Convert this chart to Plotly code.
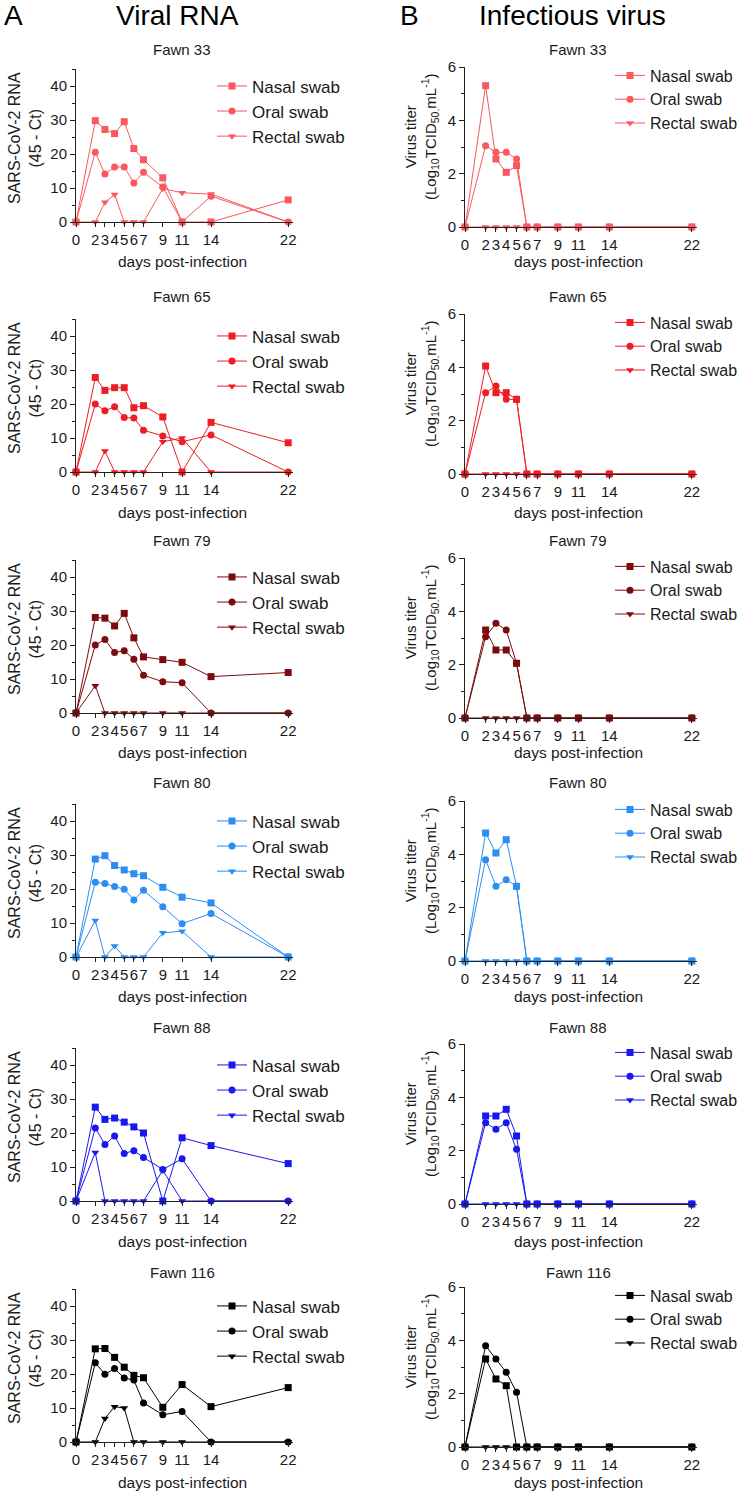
import plotly.graph_objects as go

# ---------------- data ----------------
days = [0, 2, 3, 4, 5, 6, 7, 9, 11, 14, 22]
day_labels = ["0", "2", "3", "4", "5", "6", "7", "9", "11", "14", "22"]
fawn_names = ["Fawn 33", "Fawn 65", "Fawn 79", "Fawn 80", "Fawn 88", "Fawn 116"]
series_names = ["Nasal swab", "Oral swab", "Rectal swab"]

# Viral RNA (45 - Ct)
rna_nasal_33 = [0, 29.8, 27.2, 26.0, 29.5, 21.6, 18.3, 13.0, 0, 0, 6.5]
rna_oral_33 = [0, 20.5, 14.1, 16.2, 16.2, 11.5, 14.6, 10.3, 0, 7.6, 0]
rna_rectal_33 = [0, 0, 5.8, 8.1, 0, 0, 0, 9.8, 8.6, 8.2, 0]
rna_nasal_65 = [0, 27.8, 24.0, 24.8, 24.8, 18.9, 19.5, 16.2, 0, 14.6, 8.6]
rna_oral_65 = [0, 20.0, 18.0, 19.2, 16.0, 15.9, 12.3, 10.6, 8.9, 10.9, 0]
rna_rectal_65 = [0, 0, 6.2, 0, 0, 0, 0, 8.9, 10.0, 0, 0]
rna_nasal_79 = [0, 28.1, 27.9, 25.6, 29.3, 22.1, 16.5, 15.7, 14.9, 10.7, 11.9]
rna_oral_79 = [0, 20.0, 21.6, 17.8, 18.3, 15.8, 11.1, 9.2, 8.9, 0, 0]
rna_rectal_79 = [0, 8.0, 0, 0, 0, 0, 0, 0, 0, 0, 0]
rna_nasal_80 = [0, 28.8, 29.8, 26.9, 25.6, 24.5, 23.9, 20.5, 17.6, 15.9, 0]
rna_oral_80 = [0, 22.0, 21.6, 20.7, 19.9, 16.8, 19.6, 14.8, 9.8, 12.8, 0]
rna_rectal_80 = [0, 10.7, 0, 3.2, 0, 0, 0, 7.1, 7.6, 0, 0]
rna_nasal_88 = [0, 27.6, 24.0, 24.4, 23.2, 21.8, 20.0, 0, 18.6, 16.3, 11.0]
rna_oral_88 = [0, 21.5, 16.6, 19.1, 14.0, 14.8, 12.8, 9.3, 12.4, 0, 0]
rna_rectal_88 = [0, 14.3, 0, 0, 0, 0, 0, 9.0, 0, 0, 0]
rna_nasal_116 = [0, 27.4, 27.5, 24.9, 22.0, 19.6, 18.9, 10.2, 16.9, 10.4, 16.0]
rna_oral_116 = [0, 23.3, 19.9, 21.6, 18.8, 18.2, 11.5, 8.0, 9.0, 0, 0]
rna_rectal_116 = [0, 0, 6.9, 10.4, 10.0, 0, 0, 0, 0, 0, 0]

# Infectious virus titer (Log10 TCID50/mL)
tit_nasal_33 = [0, 5.3, 2.55, 2.05, 2.3, 0, 0, 0, 0, 0, 0]
tit_oral_33 = [0, 3.05, 2.8, 2.8, 2.55, 0, 0, 0, 0, 0, 0]
tit_rectal_33 = [0, 0, 0, 0, 0, 0, 0, 0, 0, 0, 0]
tit_nasal_65 = [0, 4.05, 3.05, 3.05, 2.8, 0, 0, 0, 0, 0, 0]
tit_oral_65 = [0, 3.05, 3.3, 2.8, 2.8, 0, 0, 0, 0, 0, 0]
tit_rectal_65 = [0, 0, 0, 0, 0, 0, 0, 0, 0, 0, 0]
tit_nasal_79 = [0, 3.3, 2.55, 2.55, 2.05, 0, 0, 0, 0, 0, 0]
tit_oral_79 = [0, 3.05, 3.55, 3.3, 2.05, 0, 0, 0, 0, 0, 0]
tit_rectal_79 = [0, 0, 0, 0, 0, 0, 0, 0, 0, 0, 0]
tit_nasal_80 = [0, 4.8, 4.05, 4.55, 2.8, 0, 0, 0, 0, 0, 0]
tit_oral_80 = [0, 3.8, 2.8, 3.05, 2.8, 0, 0, 0, 0, 0, 0]
tit_rectal_80 = [0, 0, 0, 0, 0, 0, 0, 0, 0, 0, 0]
tit_nasal_88 = [0, 3.3, 3.3, 3.55, 2.55, 0, 0, 0, 0, 0, 0]
tit_oral_88 = [0, 3.05, 2.8, 3.05, 2.05, 0, 0, 0, 0, 0, 0]
tit_rectal_88 = [0, 0, 0, 0, 0, 0, 0, 0, 0, 0, 0]
tit_nasal_116 = [0, 3.3, 2.55, 2.3, 0, 0, 0, 0, 0, 0, 0]
tit_oral_116 = [0, 3.8, 3.3, 2.8, 2.05, 0, 0, 0, 0, 0, 0]
tit_rectal_116 = [0, 0, 0, 0, 0, 0, 0, 0, 0, 0, 0]

rna_data = [
    (rna_nasal_33, rna_oral_33, rna_rectal_33),
    (rna_nasal_65, rna_oral_65, rna_rectal_65),
    (rna_nasal_79, rna_oral_79, rna_rectal_79),
    (rna_nasal_80, rna_oral_80, rna_rectal_80),
    (rna_nasal_88, rna_oral_88, rna_rectal_88),
    (rna_nasal_116, rna_oral_116, rna_rectal_116),
]
tit_data = [
    (tit_nasal_33, tit_oral_33, tit_rectal_33),
    (tit_nasal_65, tit_oral_65, tit_rectal_65),
    (tit_nasal_79, tit_oral_79, tit_rectal_79),
    (tit_nasal_80, tit_oral_80, tit_rectal_80),
    (tit_nasal_88, tit_oral_88, tit_rectal_88),
    (tit_nasal_116, tit_oral_116, tit_rectal_116),
]

# ---------------- styling / layout geometry ----------------
colors = ["#F8585E", "#EE1C24", "#7B0C0E", "#2C8DF2", "#1818EE", "#000000"]
symbols = ["square", "circle", "triangle-down"]
FONT = "Liberation Sans, Arial, Helvetica, sans-serif"
TXT = "#1a1a1a"

W, H = 743, 1493


def fx(p):
    return p / W


def fy(p):
    return 1 - p / H


LEFT_X = (76, 293)
RIGHT_X = (465, 697)
left_base = [222, 472, 713, 957, 1201, 1442]
right_base = [227, 474, 718, 961, 1204, 1447]
LEFT_H = 153
RIGHT_H = 160
title_y = [50, 296, 540, 783, 1027, 1272]

fig = go.Figure()
layout = {}
annotations = []

for i in range(6):
    for side in (0, 1):
        k = 2 * i + 1 + side
        xname = "x" if k == 1 else f"x{k}"
        yname = "y" if k == 1 else f"y{k}"
        xkey = "xaxis" if k == 1 else f"xaxis{k}"
        ykey = "yaxis" if k == 1 else f"yaxis{k}"
        lkey = "legend" if k == 1 else f"legend{k}"
        data = rna_data[i] if side == 0 else tit_data[i]
        # rectal drawn first, nasal last (on top); legend order set by rank
        for s in (2, 1, 0):
            fig.add_trace(go.Scatter(
                x=days, y=data[s], name=series_names[s],
                mode="lines+markers",
                line=dict(color=colors[i], width=1),
                marker=dict(symbol=symbols[s], size=7, color=colors[i], line=dict(width=0)),
                xaxis=xname, yaxis=yname, legend=lkey, legendrank=s + 1,
                cliponaxis=False, showlegend=True,
            ))
        if side == 0:
            xd, base, hgt = LEFT_X, left_base[i], LEFT_H
            yr, yt, ym = [0, 45], [0, 10, 20, 30, 40], [5, 15, 25, 35, 45]
            leg_x, leg_top, leg_font = 212, base - 153.6, 17
            cx = 182
        else:
            xd, base, hgt = RIGHT_X, right_base[i], RIGHT_H
            yr, yt, ym = [0, 6], [0, 2, 4, 6], [1, 3, 5]
            leg_x, leg_top, leg_font = 610, base - 168.5, 16
            cx = 578
        layout[xkey] = dict(
            domain=[fx(xd[0]), fx(xd[1])], range=[0, 22.5], anchor=yname,
            tickmode="array", tickvals=days, ticktext=day_labels, tickangle=0,
            showline=True, linecolor="#222", linewidth=1,
            ticks="outside", ticklen=4, tickcolor="#222", tickwidth=1,
            tickfont=dict(size=15, color=TXT, family=FONT),
            showgrid=False, zeroline=False, fixedrange=True, automargin=False,
        )
        layout[ykey] = dict(
            domain=[fy(base), fy(base - hgt)], range=yr, anchor=xname,
            tickmode="array", tickvals=yt, ticktext=[str(v) for v in yt],
            showline=True, linecolor="#222", linewidth=1,
            ticks="outside", ticklen=5, tickcolor="#222", tickwidth=1,
            minor=dict(tickvals=ym, ticks="outside", ticklen=3, tickcolor="#222"),
            tickfont=dict(size=15, color=TXT, family=FONT),
            showgrid=False, zeroline=False, fixedrange=True, automargin=False,
        )
        layout[lkey] = dict(
            x=fx(leg_x), y=fy(leg_top), xanchor="left", yanchor="top",
            bgcolor="rgba(0,0,0,0)", borderwidth=0,
            font=dict(size=leg_font, color=TXT, family=FONT),
        )
        # panel title
        annotations.append(dict(
            x=fx(cx), y=fy(title_y[i]), xref="paper", yref="paper",
            text=fawn_names[i], showarrow=False, xanchor="center", yanchor="middle",
            font=dict(size=15, color=TXT, family=FONT),
        ))
        # x-axis title
        annotations.append(dict(
            x=fx(cx), y=fy(left_base[i] + 40), xref="paper", yref="paper",
            text="days post-infection", showarrow=False, xanchor="center", yanchor="middle",
            font=dict(size=15.5, color=TXT, family=FONT),
        ))
        # y-axis title
        if side == 0:
            annotations.append(dict(
                x=fx(25), y=fy(base - 84), xref="paper", yref="paper",
                text="SARS-CoV-2 RNA<br>(45 - Ct)", showarrow=False, textangle=-90,
                xanchor="center", yanchor="middle",
                font=dict(size=16, color=TXT, family=FONT),
            ))
        else:
            annotations.append(dict(
                x=fx(421), y=fy(base - 91), xref="paper", yref="paper",
                text="Virus titer<br>(Log<sub>10</sub>TCID<sub>50.</sub>mL<sup>-1</sup>)",
                showarrow=False, textangle=-90, xanchor="center", yanchor="middle",
                font=dict(size=15, color=TXT, family=FONT),
            ))

# column headers
annotations += [
    dict(x=fx(2), y=fy(16), xref="paper", yref="paper", text="A", showarrow=False,
         xanchor="left", yanchor="middle", font=dict(size=28, color="#000", family=FONT)),
    dict(x=fx(177), y=fy(16), xref="paper", yref="paper", text="Viral RNA", showarrow=False,
         xanchor="center", yanchor="middle", font=dict(size=28, color="#000", family=FONT)),
    dict(x=fx(398), y=fy(16), xref="paper", yref="paper", text="B", showarrow=False,
         xanchor="left", yanchor="middle", font=dict(size=28, color="#000", family=FONT)),
    dict(x=fx(572), y=fy(16), xref="paper", yref="paper", text="Infectious virus", showarrow=False,
         xanchor="center", yanchor="middle", font=dict(size=28, color="#000", family=FONT)),
]

fig.update_layout(
    width=W, height=H,
    margin=dict(l=0, r=0, t=0, b=0, autoexpand=False),
    paper_bgcolor="white", plot_bgcolor="white",
    font=dict(family=FONT, color=TXT),
    annotations=annotations,
    **layout,
)

fig.write_html(
    "out.html",
    config={"displayModeBar": False, "staticPlot": True},
    post_script="document.body.style.margin='0px';document.documentElement.style.overflow='hidden';",
)
